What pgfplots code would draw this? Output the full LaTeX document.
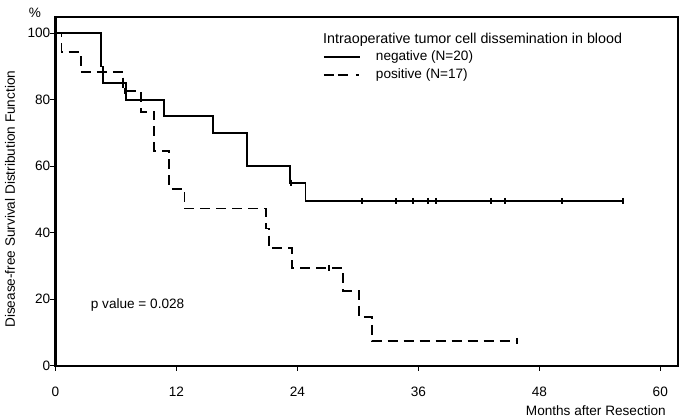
\documentclass[border=0pt]{standalone}
\usepackage{pgfplots}
\pgfplotsset{compat=1.18}
\usepackage{fontspec}
\setmainfont{Liberation Sans}
\newcommand\chartfont{\fontsize{13.6bp}{16bp}\selectfont}
\begin{document}
\chartfont
\begin{tikzpicture}
\begin{axis}[
  at={(0,0)}, anchor=south west,
  scale only axis, width=622.5bp, height=348.4bp,
  xmin=0, xmax=61.76, ymin=0, ymax=104.8,
  clip=false,
  xtick={0,12,...,60}, ytick={0,20,...,100},
  xtick pos=bottom, ytick pos=left, tick align=outside,
  major tick length=5bp,
  every tick/.style={black, line width=1.3bp},
  axis line style={line width=2bp},
  /pgf/number format/assume math mode=true,
  ticklabel style={font=\chartfont},
  xticklabel style={anchor=center, yshift=-21.3bp},
  yticklabel style={anchor=east, inner sep=0pt},
  xlabel={Months after Resection},
  xlabel style={at={(axis description cs:0.9807,-0.130)}, anchor=east, inner sep=0pt},
  ylabel={Disease-free Survival Distribution Function},
  ylabel style={at={(axis description cs:-0.0731,0.478)}, anchor=center, inner sep=0pt},
  label style={font=\chartfont},
  legend style={at={(rel axis cs:0.4297,0.9132)}, anchor=north west, draw=none, fill=none,
    inner sep=0pt, outer sep=0pt, row sep=0pt,
    nodes={inner xsep=0pt, inner ysep=3.15bp, text height=9.5bp, text depth=2.5bp,
      font=\chartfont}},
  legend cell align=left,
]
% negative (N=20)
\addplot[const plot, line width=1.8bp, forget plot] coordinates {
  (0,100) (4.5,90) (4.7,85) (7.0,80) (10.8,75) (15.6,70) (19.0,60)
  (23.3,55) (24.8,49.5) (56.3,49.5)};
\addplot[only marks, mark=|, mark size=3.2bp, line width=1.9bp, forget plot] coordinates {
  (23.4,55) (30.44,49.5) (33.75,49.5) (35.5,49.5) (36.99,49.5) (37.72,49.5)
  (43.18,49.5) (44.6,49.5) (50.22,49.5) (56.27,49.5)};
% positive (N=17)
\addplot[const plot, line width=1.8bp, dash pattern=on 10bp off 6bp, forget plot] coordinates {
  (0,100) (0.6,94.3) (2.5,88.4) (6.7,82.6) (8.45,76.4) (9.8,64.7) (11.3,53.2)
  (12.8,47.3) (20.85,41.3) (21.2,35.3) (23.5,29.3) (28.55,22.5) (30.1,14.7)
  (31.4,7.4) (45.75,7.4)};
\addplot[only marks, mark=|, mark size=3.2bp, line width=1.9bp, forget plot] coordinates {
  (4.75,88.4) (6.9,82.6) (27.1,29.3) (45.75,7.4)};
\addlegendimage{legend image code/.code={
  \draw[line width=1.9bp, solid] (0bp,0bp) -- (36bp,0bp);
  \path[draw=none] (0bp,0bp) -- (52bp,0bp);}}
\addlegendentry{negative (N=20)}
\addlegendimage{legend image code/.code={
  \draw[line width=1.9bp, dash pattern=on 10bp off 4bp on 10bp off 8bp on 3bp off 20bp] (0bp,0bp) -- (35bp,0bp);
  \path[draw=none] (0bp,0bp) -- (52bp,0bp);}}
\addlegendentry{positive (N=17)}
\node[anchor=base west, inner sep=0pt, font=\fontsize{14.3bp}{16bp}\selectfont] at (rel axis cs:0.4297,0.924)
  {Intraoperative tumor cell dissemination in blood};
\node[anchor=west, inner sep=0pt] at (axis cs:3.49,18.26) {p value = 0.028};
\node[inner sep=0pt] at (rel axis cs:0,1) [xshift=-20.5bp, yshift=4bp] {\%};
\end{axis}
\pgfresetboundingbox
\path[use as bounding box] (-55.5bp,-53.3bp) rectangle (627.5bp,365.7bp);
\end{tikzpicture}
\end{document}
